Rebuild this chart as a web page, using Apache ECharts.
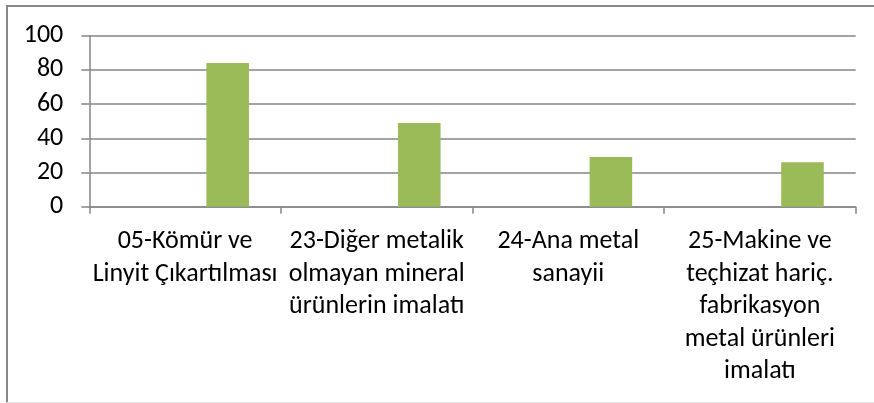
<!DOCTYPE html>
<html>
<head>
<meta charset="utf-8">
<script src="https://cdn.jsdelivr.net/npm/echarts@6/dist/echarts.min.js"></script>
<style>
  html, body { margin: 0; padding: 0; background: #fff; }
  #chart { width: 874px; height: 403px; }
</style>
</head>
<body>
<div id="chart"></div>
<script>
// Sector categories (x axis), wrapped as they appear under the axis
const categories = [
  '05-Kömür ve\nLinyit Çıkartılması',
  '23-Diğer metalik\nolmayan mineral\nürünlerin imalatı',
  '24-Ana metal\nsanayii',
  '25-Makine ve\nteçhizat hariç.\nfabrikasyon\nmetal ürünleri\nimalatı'
];

// Values per sector; the first two series of the group carry no data
const seriesAValues = [];
const seriesBValues = [];
const seriesCValues = [84, 49, 29, 26];

// Value axis ticks
const yMin = 0;
const yMax = 100;
const yStep = 20;

const FONT = 'Carlito, Calibri, Lato, sans-serif';
const AXIS_GRAY = '#868686';

const chart = echarts.init(document.getElementById('chart'), null, { renderer: 'canvas' });

chart.setOption({
  animation: false,
  backgroundColor: '#ffffff',
  grid: { left: 89.3, right: 18.3, top: 35.7, bottom: 196.3, containLabel: false },
  xAxis: {
    type: 'category',
    data: categories,
    axisLine: { show: true, lineStyle: { color: AXIS_GRAY, width: 1.5 } },
    axisTick: { show: true, length: 7, lineStyle: { color: AXIS_GRAY, width: 1.5 } },
    axisLabel: {
      interval: 0,
      margin: 19,
      color: '#000',
      fontFamily: FONT,
      fontSize: 26,
      lineHeight: 32.5,
      align: 'center'
    },
    splitLine: { show: false }
  },
  yAxis: {
    type: 'value',
    min: yMin,
    max: yMax,
    interval: yStep,
    axisLine: { show: true, lineStyle: { color: AXIS_GRAY, width: 1.5 } },
    axisTick: { show: true, length: 8, lineStyle: { color: AXIS_GRAY, width: 1.5 } },
    axisLabel: {
      margin: 26,
      color: '#000',
      fontFamily: FONT,
      fontSize: 26
    },
    splitLine: { show: true, lineStyle: { color: AXIS_GRAY, width: 1.5 } }
  },
  series: [
    { name: 'A', type: 'bar', data: seriesAValues, barGap: '0%', barCategoryGap: '33.33%' },
    { name: 'B', type: 'bar', data: seriesBValues, barGap: '0%', barCategoryGap: '33.33%' },
    {
      name: 'C', type: 'bar', data: seriesCValues, barGap: '0%', barCategoryGap: '33.33%',
      itemStyle: { color: '#9BBB59' }
    }
  ],
  graphic: [
    // chart frame: top and left edges in view, faint bottom edge
    { type: 'line', shape: { x1: 6.5, y1: 6, x2: 874, y2: 6 }, style: { stroke: '#898989', lineWidth: 2 }, silent: true },
    { type: 'line', shape: { x1: 7, y1: 5, x2: 7, y2: 403 }, style: { stroke: '#898989', lineWidth: 2 }, silent: true },
    { type: 'line', shape: { x1: 6, y1: 402.5, x2: 874, y2: 402.5 }, style: { stroke: '#e4e4e4', lineWidth: 1 }, silent: true }
  ]
});
</script>
</body>
</html>
